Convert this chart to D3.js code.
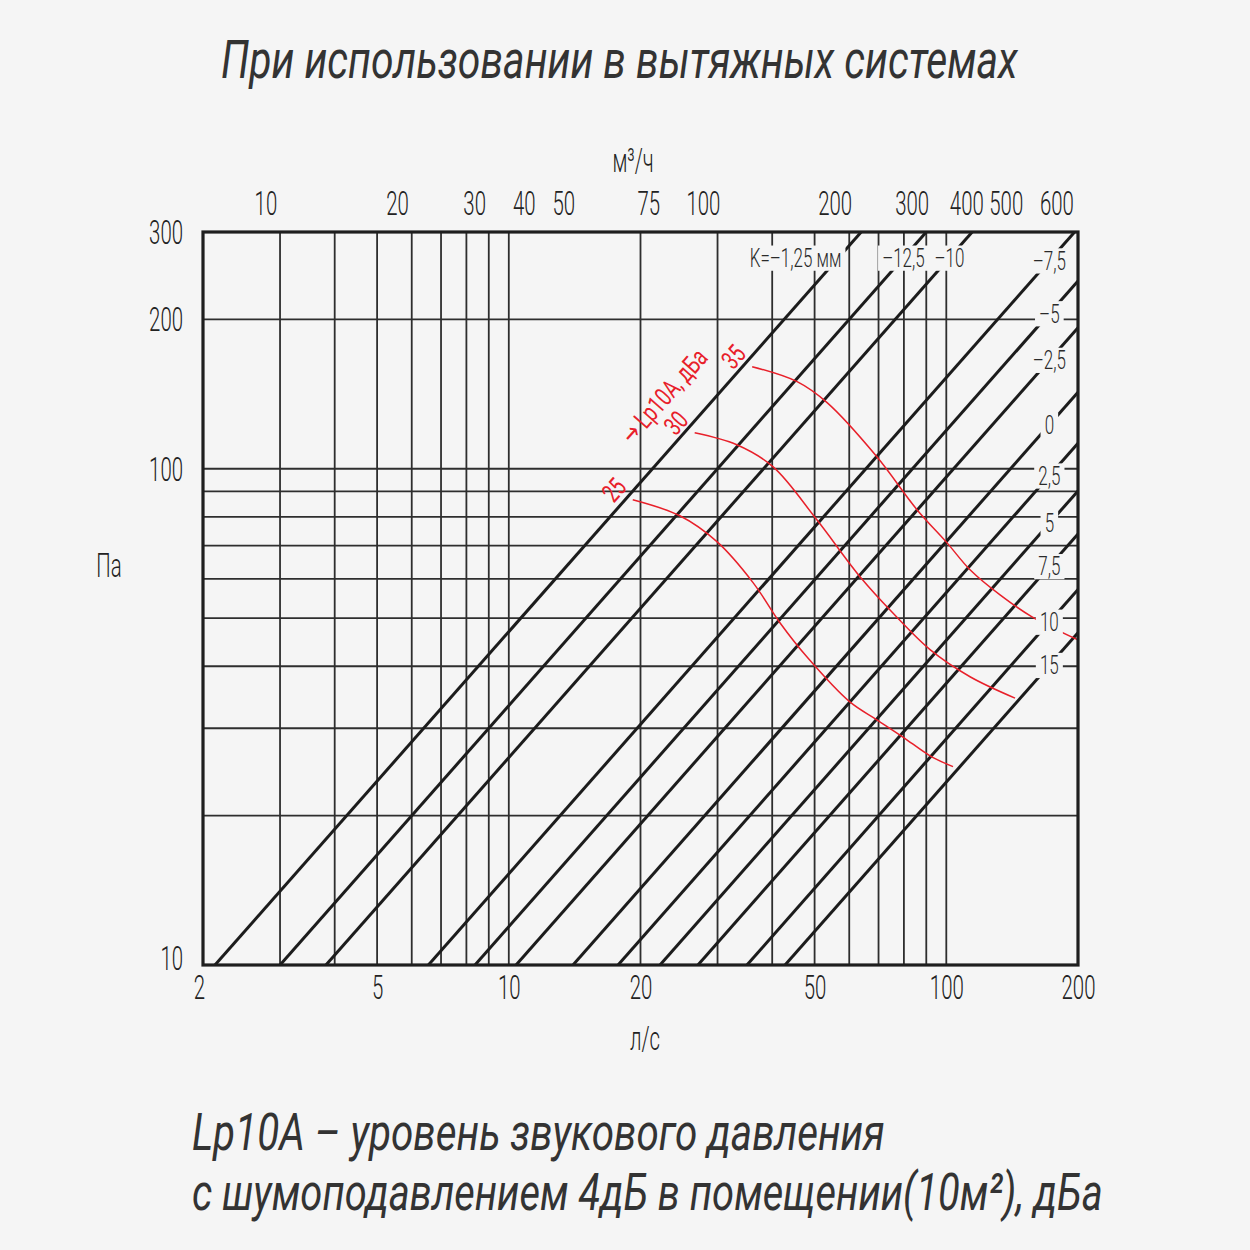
<!DOCTYPE html>
<html><head><meta charset="utf-8">
<script src="https://cdn.jsdelivr.net/npm/d3@7"></script>
<style>body{margin:0;background:#f5f5f5} svg{display:block}</style>
</head><body><svg id="c" width="1250" height="1250"></svg>
<script>
// ---- data ----
const xTicks = [2, 5, 10, 20, 50, 100, 200];                 // l/s
const xGrid = [3, 4, 5, 6, 7, 8, 9, 10, 20, 30, 40, 50, 60, 70, 80, 90, 100];
const yTicks = [10, 100, 200, 300];                          // Pa
const yGrid = [20, 30, 40, 50, 60, 70, 80, 90, 100, 200];
const topTicks = [10, 20, 30, 40, 50, 75, 100, 200, 300, 400, 500, 600]; // m3/h
const kLabels = ["K=–1,25 мм", "–12,5", "–10", "–7,5", "–5", "–2,5", "0", "2,5", "5", "7,5", "10", "15"];
const kFlowAt10Pa = [2.13, 3.0, 3.82, 6.55, 8.37, 10.39, 14.02, 17.77, 22.16, 27.06, 35.02, 42.8]; // l/s at 10 Pa
const noiseLevels = ["25", "30", "35"];
const curve25 = [[19.2, 86.6], [24.6, 80.4], [29.9, 71.3], [36.2, 58.9], [41.7, 48.9], [48.0, 41.8], [60.2, 33.9], [69.4, 31.2], [79.6, 28.8], [91.8, 26.4], [103.6, 25.1]];
const curve30 = [[26.6, 118.2], [33.2, 111.8], [40.2, 100.9], [50.6, 78.9], [63.5, 60.6], [75.5, 51.2], [91.8, 43.2], [113.3, 38.1], [143.6, 34.5]];
const curve35 = [[36.0, 160.6], [45.6, 149.8], [53.4, 135.9], [69.4, 105.7], [85.7, 82.7], [100.4, 70.9], [113.3, 62.6], [132.7, 55.7], [157, 50.3], [200, 45.2]];
const noiseCurves = [curve25, curve30, curve35];

const titleText = "При использовании в вытяжных системах";
const footer1 = "Lp10A – уровень звукового давления";
const footer2 = "с шумоподавлением 4дБ в помещении(10м²), дБа";

// ---- layout ----
const L = 203, R = 1078, T = 232, B = 965;
const BG = "#f5f5f5", INK = "#262626", RED = "#e8202a";
const FONT = "Roboto, 'DejaVu Sans', sans-serif";
const svg = d3.select("#c");
svg.append("rect").attr("width", 1250).attr("height", 1250).attr("fill", BG);

const x = d3.scaleLog().domain([2, 200]).range([L, R]);
const y = d3.scaleLog().domain([10, 300]).range([B, T]);
const xTop = d3.scaleLog().domain([2 * 3.6, 200 * 3.6]).range([L, R]);

svg.append("clipPath").attr("id", "plot").append("rect")
  .attr("x", L).attr("y", T).attr("width", R - L).attr("height", B - T);

const gGrid = svg.append("g").attr("clip-path", "url(#plot)");
gGrid.selectAll(".vx").data(xGrid).join("line")
  .attr("x1", d => x(d)).attr("x2", d => x(d)).attr("y1", T).attr("y2", B)
  .attr("stroke", "#2e2e2e").attr("stroke-width", 1.8);
gGrid.selectAll(".hy").data(yGrid).join("line")
  .attr("y1", d => y(d)).attr("y2", d => y(d)).attr("x1", L).attr("x2", R)
  .attr("stroke", "#2e2e2e").attr("stroke-width", 1.8);

// diagonal K lines (P proportional to Q)
const line = d3.line().x(d => x(d[0])).y(d => y(d[1]));
const diag = kFlowAt10Pa.map(q0 => {
  const qEnd = Math.min(200, q0 * 30);
  return [[q0, 10], [qEnd, 10 * qEnd / q0]];
});
gGrid.selectAll(".dg").data(diag).join("path")
  .attr("d", line).attr("fill", "none").attr("stroke", "#1c1c1c").attr("stroke-width", 3);

// red noise curves
const cline = d3.line().x(d => x(d[0])).y(d => y(d[1])).curve(d3.curveCatmullRom.alpha(0.5));
gGrid.selectAll(".nc").data(noiseCurves).join("path")
  .attr("d", cline).attr("fill", "none").attr("stroke", RED).attr("stroke-width", 1.5);

// border
svg.append("rect").attr("x", L).attr("y", T).attr("width", R - L).attr("height", B - T)
  .attr("fill", "none").attr("stroke", "#1e1e1e").attr("stroke-width", 3.2);

// label helper
function label(px, py, text, o) {
  o = Object.assign({size: 24, sx: 0.7, anchor: "middle", rot: 0, fill: INK, weight: 300, bg: false, dx: 0}, o);
  const g = svg.append("g").attr("transform", `translate(${px},${py}) rotate(${o.rot})`);
  const inner = g.append("g").attr("transform", `scale(${o.sx},1)`);
  const rect = inner.append("rect");
  const t = inner.append("text").attr("x", o.dx / o.sx).attr("dy", "0.36em")
    .attr("text-anchor", o.anchor).attr("font-family", FONT).attr("font-size", o.size)
    .attr("font-weight", o.weight).attr("fill", o.fill).text(text);
  if (o.bg) {
    const b = t.node().getBBox();
    rect.attr("x", b.x - 6).attr("y", b.y + 2).attr("width", b.width + 12).attr("height", b.height - 4).attr("fill", BG);
  } else rect.remove();
  return t;
}

// K labels
const qLab = 172, pTop = 266;
kLabels.forEach((k, i) => {
  const q0 = kFlowAt10Pa[i];
  let q = qLab, p = 10 * qLab / q0;
  if (p > pTop) { p = pTop; q = q0 * pTop / 10; }
  label(x(q), y(p), k, {size: 25, sx: 0.68, anchor: i === 0 ? "end" : "middle", bg: true, dx: i === 0 ? 3 : 0, fill: "#2a2a2a"});
});

// noise labels
const rot = -Math.atan((y(10) - y(100)) / (x(20) - x(2))) * 180 / Math.PI;
noiseCurves.forEach((c, i) => {
  label(x(c[0][0]) - 19, y(c[0][1]) - 10, noiseLevels[i], {size: 26, sx: 0.72, rot: rot, fill: RED, weight: 400});
});
label(x(curve30[0][0]) - 31, y(curve30[0][1]) - 37, "→ Lp10A, дБа", {size: 26, sx: 0.72, rot: rot, fill: RED, weight: 400});

// axes
function styleAxis(g, sx) {
  g.select(".domain").remove();
  g.selectAll("text").attr("font-family", FONT).attr("font-size", 34).attr("font-weight", 300)
    .attr("fill", "#222").attr("transform", `scale(${sx},1)`);
}
const SX = 0.6;
const gb = svg.append("g").attr("transform", `translate(0,${B})`)
  .call(d3.axisBottom(x).tickValues(xTicks).tickFormat(d3.format("d")).tickSize(0).tickPadding(10));
styleAxis(gb, SX);
gb.selectAll(".tick text").attr("x", d => (d === 2 ? -4 : 0) / SX);

const gl = svg.append("g").attr("transform", `translate(${L},0)`)
  .call(d3.axisLeft(y).tickValues(yTicks).tickFormat(d3.format("d")).tickSize(0).tickPadding(20));
styleAxis(gl, SX);
gl.selectAll(".tick text").attr("x", -20 / SX).attr("dy", d => d === 10 ? "0.12em" : "0.34em");

const gt = svg.append("g").attr("transform", `translate(0,${T})`)
  .call(d3.axisTop(xTop).tickValues(topTicks).tickFormat(d3.format("d")).tickSize(0).tickPadding(17));
styleAxis(gt, SX);
// small nudges to keep the crowded right-hand labels apart
gt.selectAll(".tick text").attr("x", d => ({500: -3, 600: 13, 50: -8, 40: -5}[d] || 0) / SX);

// axis titles
label(633, 160, "м³/ч", {size: 34, sx: SX, fill: "#222"});
label(645, 1038, "л/с", {size: 34, sx: SX, fill: "#222"});
label(109, 565, "Па", {size: 34, sx: SX, fill: "#222"});

// title and footer, fitted to their widths by a horizontal scale
function fitText(px, py, text, width, size) {
  const g = svg.append("g");
  const t = g.append("text").attr("x", 0).attr("y", 0).attr("font-family", FONT).attr("font-size", size)
    .attr("font-style", "italic").attr("fill", "#333").text(text);
  const w = t.node().getComputedTextLength();
  g.attr("transform", `translate(${px},${py}) scale(${width / w},1)`);
}
fitText(221, 78, titleText, 797, 53);
fitText(192, 1150, footer1, 693, 52);
fitText(192, 1210, footer2, 911, 52);
</script></body></html>
